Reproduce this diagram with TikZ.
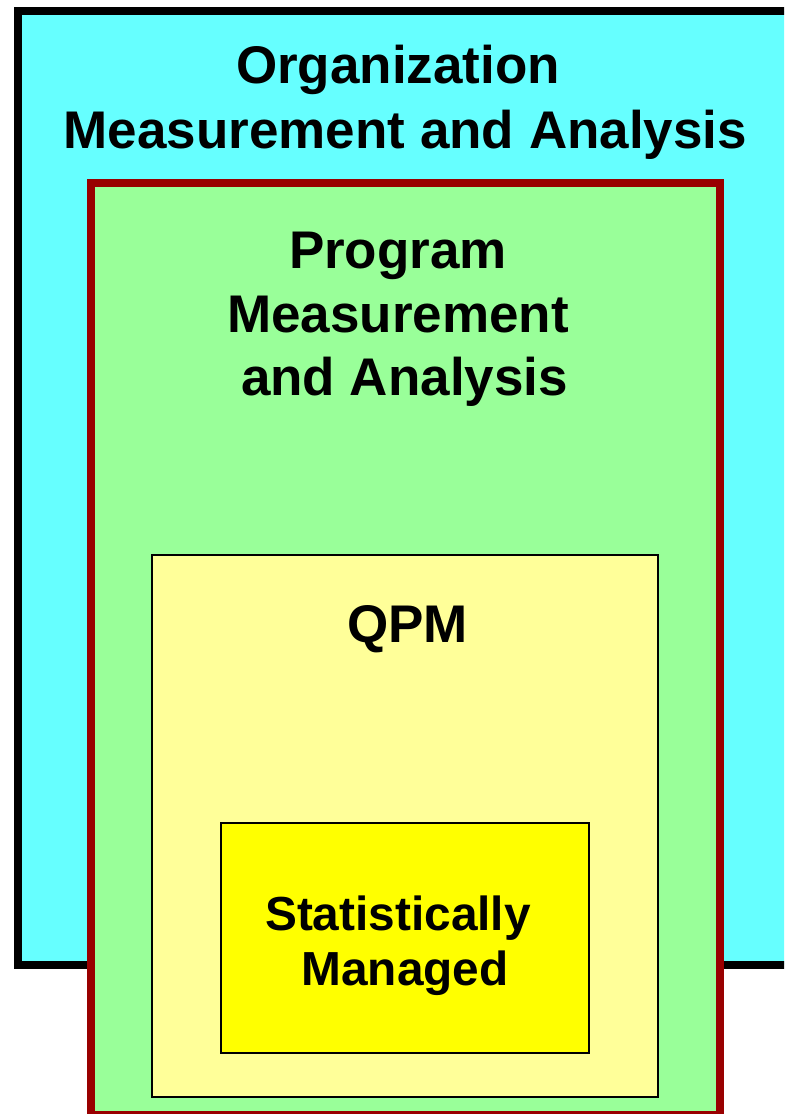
\documentclass[tikz,border=0pt]{standalone}
\usepackage{fontspec}
\setmainfont{Liberation Sans}
\definecolor{orgcyan}{HTML}{66FFFF}
\definecolor{proggreen}{HTML}{99FF99}
\definecolor{qpmyellow}{HTML}{FFFF99}
\definecolor{statyellow}{HTML}{FFFF00}
\definecolor{progred}{HTML}{990000}
\begin{document}
\begin{tikzpicture}[x=0.5pt,y=-0.5pt,
  bigtext/.style={inner sep=0pt, anchor=base, font=\fontsize{26.5pt}{32pt}\selectfont\bfseries},
  smalltext/.style={inner sep=0pt, anchor=base, font=\fontsize{23.9pt}{29pt}\selectfont\bfseries}]
\useasboundingbox (0,0) rectangle (784,1114);
\clip (0,0) rectangle (784,1114);
% outer organization box
\draw[line width=4pt, fill=orgcyan] (17.5,11) rectangle (820,964.5);
\node[bigtext] (org1) at (398,83) {Organization};
\node[bigtext] (org2) at (405.5,148) {Measurement and Analysis};
% program box
\draw[line width=4pt, draw=progred, fill=proggreen] (90.5,182.5) rectangle (719.5,1115);
\node[bigtext] (prog1) at (398,268) {Program};
\node[bigtext] (prog2) at (398,332) {Measurement};
\node[bigtext] (prog3) at (404.5,395) {and Analysis};
% QPM box
\draw[line width=1pt, fill=qpmyellow] (152,555) rectangle (658,1097);
\node[bigtext] (qpm) at (407.5,642) {QPM};
% statistically managed box
\draw[line width=1pt, fill=statyellow] (221,823) rectangle (589,1053);
\node[smalltext] (stat1) at (398,930) {Statistically};
\node[smalltext] (stat2) at (405,985) {Managed};
\end{tikzpicture}
\end{document}
